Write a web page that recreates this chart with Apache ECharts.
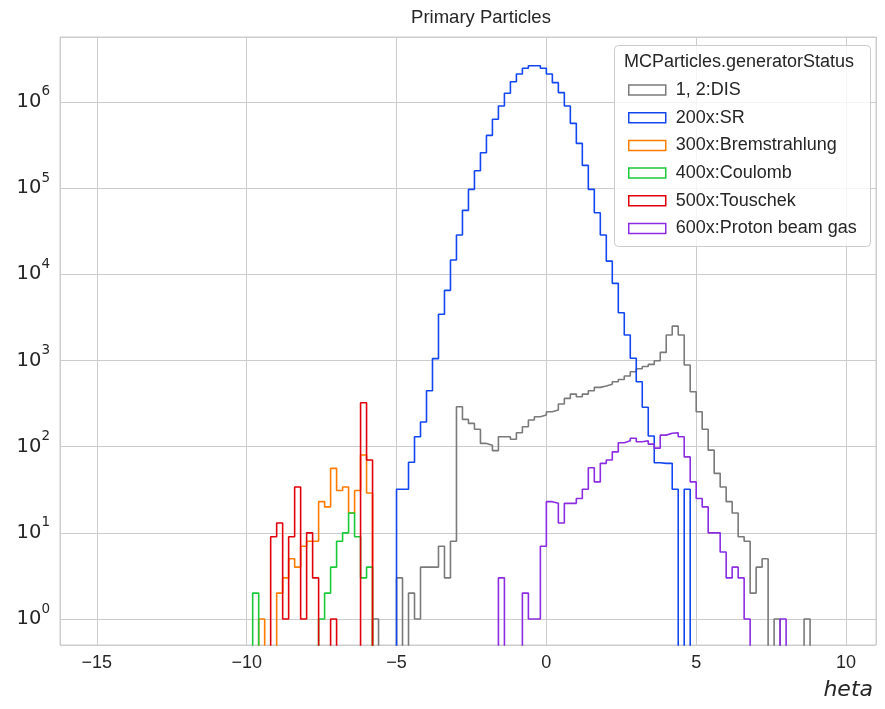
<!DOCTYPE html>
<html><head><meta charset="utf-8">
<script src="https://cdn.jsdelivr.net/npm/echarts@6/dist/echarts.min.js"></script>
<style>html,body{margin:0;padding:0;background:#fff}#c{width:885px;height:709px}</style>
</head><body><div id="c"></div>
<script>
// ---- data (histogram counts per 0.2-wide eta bin) ----
const binWidth = 0.2;
const seriesNames = ['1, 2:DIS', '200x:SR', '300x:Bremstrahlung', '400x:Coulomb', '500x:Touschek', '600x:Proton beam gas'];
const xTicks = [-15, -10, -5, 0, 5, 10];

const disStart = -5.8;
const disCounts = [1, 0, 0, 0, 3, 0, 2, 1, 4, 4, 4, 7, 3, 8, 290, 207, 186, 159, 109, 104, 90, 130, 130, 122, 145, 170, 204, 222, 233, 254, 266, 312, 363, 407, 379, 407, 445, 487, 505, 530, 565, 600, 660, 740, 800, 850, 900, 990, 1240, 1970, 2500, 1970, 885, 433, 254, 159, 91, 49, 34, 23, 17, 9, 8, 2, 4, 5, 0, 1, 0, 0, 0, 0, 1];

const srStart = -5.0;
const srCounts = [32, 32, 66, 130, 193, 445, 1050, 3430, 6500, 14600, 28500, 55100, 96600, 158800, 257000, 408000, 627000, 893000, 1256000, 1710000, 2100000, 2450000, 2620000, 2620000, 2450000, 2100000, 1670000, 1280000, 893000, 563000, 330000, 183000, 96600, 51700, 28500, 14200, 7840, 3570, 1970, 1060, 566, 286, 133, 65, 64, 64, 32, 0, 32];

const bremStart = -9.6;
const bremCounts = [1, 0, 0, 2, 3, 5, 4, 7, 8, 8, 23, 20, 56, 31, 34, 17, 31, 80, 29];

const coulombStart = -9.8;
const coulombCounts = [2, 0, 0, 0, 0, 0, 0, 0, 0, 0, 0, 1, 2, 4, 8, 10, 17, 9, 3, 4];

const touschekStart = -9.2;
const touschekCounts = [9, 13, 1, 9, 34, 1, 10, 3, 0, 0, 1, 0, 0, 0, 0, 323, 70];

const protonStart = -1.6;
const protonCounts = [3, 0, 0, 0, 2, 1, 1, 7, 23, 22, 13, 22, 22, 25, 32, 57, 39, 64, 70, 87, 111, 117, 125, 114, 117, 107, 96, 136, 143, 145, 130, 76, 39, 25, 20, 10, 10, 6, 3, 4, 3, 1, 0, 0, 0, 0, 0, 1];

const seriesStarts = [disStart, srStart, bremStart, coulombStart, touschekStart, protonStart];
const seriesCounts = [disCounts, srCounts, bremCounts, coulombCounts, touschekCounts, protonCounts];
const seriesColors = ['#7a7a7a', '#1246f0', '#ff7c00', '#1ac938', '#e0000b', '#8b2be2'];

// ---- build step outlines (matplotlib histtype="step") ----
const FLOOR = 1e-3; // empty bins fall below the log axis and are clipped
function stepData(start, counts) {
  const pts = [[start, FLOOR]];
  counts.forEach((c, i) => pts.push([+(start + i * binWidth).toFixed(4), c > 0 ? c : FLOOR]));
  pts.push([+(start + counts.length * binWidth).toFixed(4), FLOOR]);
  return pts;
}

const txt = '#262626';
const chart = echarts.init(document.getElementById('c'), null, {renderer: 'canvas'});
const option = {
  animation: false,
  backgroundColor: '#ffffff',
  title: {
    text: 'Primary Particles', left: 481, top: 8, textAlign: 'center', padding: 0,
    textStyle: {fontFamily: 'Liberation Sans', fontSize: 18.5, fontWeight: 'normal', color: txt}
  },
  grid: {left: 60, right: 9, top: 37, bottom: 64, show: true, borderColor: '#cccccc', borderWidth: 1, containLabel: false, outerBoundsMode: 'none'},
  xAxis: {
    type: 'value', min: -16.23, max: 11.0,
    axisLine: {show: false}, axisTick: {show: false},
    splitLine: {show: true, lineStyle: {color: '#cccccc', width: 1}},
    axisLabel: {
      margin: 9, fontFamily: 'Liberation Sans', fontSize: 18, color: txt,
      formatter: v => xTicks.some(t => Math.abs(t - v) < 1e-9) ? (v < 0 ? '\u2212' + (-v) : String(v)) : ''
    }
  },
  yAxis: {
    type: 'log', logBase: 10, min: 0.5, max: 5.65e6, splitNumber: 7,
    axisLine: {show: false}, axisTick: {show: false},
    splitLine: {show: true, lineStyle: {color: '#cccccc', width: 1}},
    axisLabel: {
      margin: 10,
      formatter: v => {
        const l = Math.log10(v), n = Math.round(l);
        if (Math.abs(l - n) > 1e-6) return '';
        return '{b|10}{e|' + n + '}';
      },
      rich: {
        b: {fontFamily: 'DejaVu Sans', fontSize: 19.5, color: txt, lineHeight: 34, verticalAlign: 'middle'},
        e: {fontFamily: 'DejaVu Sans', fontSize: 13.5, color: txt, lineHeight: 14, verticalAlign: 'top'}
      }
    }
  },
  legend: {
    orient: 'vertical', left: 623, top: 76, z: 20,
    itemWidth: 37, itemHeight: 10, itemGap: 9.7, icon: 'rect',
    textStyle: {fontFamily: 'Liberation Sans', fontSize: 18, color: txt, lineHeight: 18, padding: [0, 0, 0, 5]},
    data: seriesNames.map((n, i) => ({name: n, itemStyle: {color: '#ffffff', borderColor: seriesColors[i], borderWidth: 1.5}}))
  },
  graphic: [
    {type: 'rect', z: 15, shape: {x: 614.5, y: 45.5, width: 256, height: 201, r: 4},
     style: {fill: 'rgba(255,255,255,0.8)', stroke: '#cccccc', lineWidth: 1}},
    {type: 'text', z: 16, style: {text: 'MCParticles.generatorStatus', x: 624, y: 62, verticalAlign: 'middle', align: 'left',
      font: '18px "Liberation Sans"', fill: txt}},
    {type: 'text', z: 16, style: {text: 'heta', x: 873, y: 690, align: 'right', verticalAlign: 'middle',
      font: 'italic 22px "DejaVu Sans"', fill: txt}}
  ],
  series: seriesNames.map((n, i) => ({
    type: 'line', name: n, step: 'end', symbol: 'none', clip: true, z: 2,
    data: stepData(seriesStarts[i], seriesCounts[i]),
    lineStyle: {color: seriesColors[i], width: 1.6},
    itemStyle: {color: '#ffffff', borderColor: seriesColors[i], borderWidth: 1.5}
  }))
};
chart.setOption(option);
</script></body></html>
